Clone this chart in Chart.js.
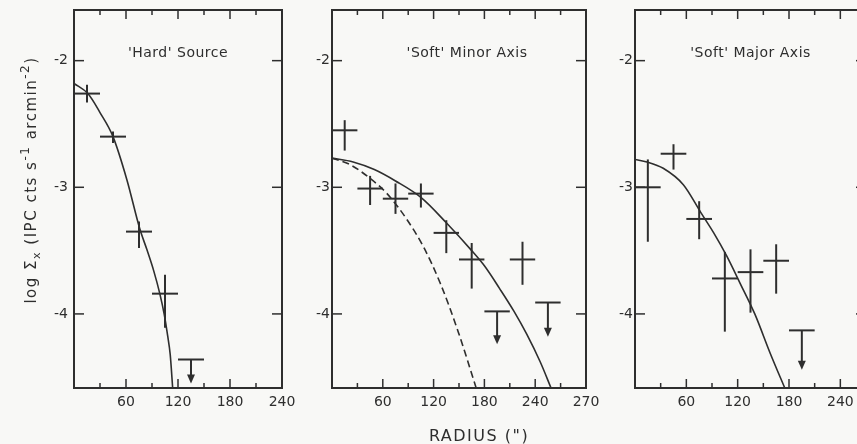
<!DOCTYPE html>
<html>
<head>
<meta charset="utf-8">
<script src="https://cdn.jsdelivr.net/npm/chart.js@4.4.0/dist/chart.umd.min.js"></script>
<style>
html, body { margin: 0; padding: 0; width: 857px; height: 444px; overflow: hidden; background: #f8f8f6; }
canvas { position: absolute; top: 0; }
</style>
</head>
<body>
<canvas id="hard" width="300" height="444" style="left:0px"></canvas>
<canvas id="minor" width="312" height="444" style="left:290px"></canvas>
<canvas id="major" width="270" height="444" style="left:600px"></canvas>
<script>
// ---- shared axes ----
const yTicks = [-2, -3, -4];
const yMin = -4.585, yMax = -1.6;
const binHalf = 15; // radial bins are 30" wide

// ---- 'Hard' Source ----
const hardX  = [15, 45, 75, 105];
const hardY  = [-2.26, -2.60, -3.35, -3.84];
const hardLo = [-2.33, -2.65, -3.48, -4.11];
const hardHi = [-2.19, -2.56, -3.27, -3.69];
const hardUlX = [135], hardUlY = [-4.36], hardUlTip = [-4.55];
const hardFitX = [0, 16, 30, 45, 61, 76, 84, 92, 99, 104, 108, 111, 114];
const hardFitY = [-2.18, -2.26, -2.41, -2.60, -2.94, -3.33, -3.49, -3.66, -3.84, -4.00, -4.17, -4.32, -4.60];
const hardTicks = [30, 60, 90, 120, 150, 180, 210];
const hardLabelAt = [60, 120, 180, 240];
const hardLabels = ["60", "120", "180", "240"];

// ---- 'Soft' Minor Axis ----
const minX  = [15, 45, 75, 105, 135, 165, 225];
const minY  = [-2.55, -3.01, -3.09, -3.05, -3.36, -3.57, -3.57];
const minLo = [-2.71, -3.14, -3.21, -3.16, -3.52, -3.80, -3.77];
const minHi = [-2.47, -2.91, -2.97, -2.97, -3.26, -3.44, -3.43];
const minUlX = [195, 255], minUlY = [-3.98, -3.91], minUlTip = [-4.24, -4.18];
const minFitX = [0, 25, 50, 75, 105, 135, 165, 180, 198, 215, 230, 246, 259];
const minFitY = [-2.77, -2.80, -2.86, -2.95, -3.08, -3.28, -3.50, -3.62, -3.80, -3.98, -4.16, -4.38, -4.59];
const minDashX = [0, 21, 45, 65, 88, 108, 128, 149, 171];
const minDashY = [-2.77, -2.82, -2.93, -3.05, -3.25, -3.47, -3.76, -4.14, -4.60];
const minTicks = [30, 60, 90, 120, 150, 180, 210, 240, 270];
const minLabelAt = [60, 120, 180, 240, 300];
const minLabels = ["60", "120", "180", "240", "270"];

// ---- 'Soft' Major Axis ----
const majX  = [15, 45, 75, 105, 135, 165];
const majY  = [-3.00, -2.735, -3.25, -3.72, -3.67, -3.58];
const majLo = [-3.43, -2.86, -3.41, -4.14, -3.99, -3.84];
const majHi = [-2.78, -2.66, -3.11, -3.51, -3.49, -3.45];
const majUlX = [195], majUlY = [-4.13], majUlTip = [-4.44];
const majFitX = [0, 14, 33, 56.5, 77, 92, 107, 123, 140, 158, 176];
const majFitY = [-2.78, -2.80, -2.85, -2.98, -3.20, -3.36, -3.54, -3.76, -4.00, -4.31, -4.60];
const majTicks = [30, 60, 90, 120, 150, 180, 210, 240];
const majLabelAt = [60, 120, 180, 240];
const majLabels = ["60", "120", "180", "240"];

const INK = "#2e2e2e";
const FONT = "'DejaVu Sans', sans-serif";

const line = (ctx, x1, y1, x2, y2) => {
    ctx.beginPath();
    ctx.moveTo(x1, y1);
    ctx.lineTo(x2, y2);
    ctx.stroke();
};

// frame, inward ticks, error crosses, upper limits, panel title
const deco = {
    id: "panelDeco",
    afterDatasetsDraw(chart, args, p) {
        const { ctx, chartArea: a } = chart;
        const sx = chart.scales.x, sy = chart.scales.y;
        ctx.save();
        ctx.strokeStyle = INK;
        ctx.fillStyle = INK;

        ctx.lineWidth = 2;
        ctx.strokeRect(a.left, a.top, a.right - a.left, a.bottom - a.top);

        ctx.lineWidth = 1.5;
        p.ticks.forEach(v => {
            const px = sx.getPixelForValue(v);
            const len = v % 60 === 0 ? 9 : 5;
            line(ctx, px, a.bottom, px, a.bottom - len);
            line(ctx, px, a.top, px, a.top + len);
        });
        yTicks.forEach(v => {
            const py = sy.getPixelForValue(v);
            line(ctx, a.left, py, a.left + 10, py);
            line(ctx, a.right, py, a.right - 10, py);
        });

        ctx.lineWidth = 2;
        p.x.forEach((xv, i) => {
            const px = sx.getPixelForValue(xv);
            const py = sy.getPixelForValue(p.y[i]);
            line(ctx, sx.getPixelForValue(xv - binHalf), py, sx.getPixelForValue(xv + binHalf), py);
            line(ctx, px, sy.getPixelForValue(p.lo[i]), px, sy.getPixelForValue(p.hi[i]));
        });

        p.ulX.forEach((xv, i) => {
            const px = sx.getPixelForValue(xv);
            const py = sy.getPixelForValue(p.ulY[i]);
            const tip = sy.getPixelForValue(p.ulTip[i]);
            line(ctx, sx.getPixelForValue(xv - binHalf), py, sx.getPixelForValue(xv + binHalf), py);
            line(ctx, px, py, px, tip - 6);
            ctx.beginPath();
            ctx.moveTo(px - 4, tip - 9);
            ctx.lineTo(px + 4, tip - 9);
            ctx.lineTo(px, tip);
            ctx.closePath();
            ctx.fill();
        });

        ctx.font = "14px " + FONT;
        ctx.textAlign = "center";
        ctx.textBaseline = "alphabetic";
        ctx.letterSpacing = "0.5px";
        ctx.fillText(p.title, (a.left + a.right) / 2 + p.titleDx, 57);

        if (p.extra) p.extra(ctx, a);
        ctx.restore();
    }
};

// y axis title with sub/superscripts, bottom to top
const drawYTitle = (ctx) => {
    const parts = [["log \u03A3", 0, 15], ["x", 4, 11], [" (IPC cts s", 0, 15], ["-1", -7, 12],
                   [" arcmin", 0, 15], ["-2", -7, 12], [")", 0, 15]];
    ctx.save();
    ctx.translate(36, 180);
    ctx.rotate(-Math.PI / 2);
    ctx.textAlign = "left";
    ctx.letterSpacing = "1.5px";
    let total = 0;
    parts.forEach(([t, , s]) => { ctx.font = s + "px " + FONT; total += ctx.measureText(t).width; });
    let cx = -total / 2;
    parts.forEach(([t, dy, s]) => {
        ctx.font = s + "px " + FONT;
        ctx.fillText(t, cx, dy);
        cx += ctx.measureText(t).width;
    });
    ctx.restore();
};

const drawXTitle = (ctx) => {
    ctx.font = "16px " + FONT;
    ctx.textAlign = "center";
    ctx.letterSpacing = "1.5px";
    ctx.fillText("RADIUS (\")", 189, 441);
};

const makePanel = (id, p) => {
    const datasets = p.fits.map(f => ({
        type: "line",
        data: f.x.map((x, i) => ({ x: x, y: f.y[i] })),
        borderColor: INK,
        borderWidth: 1.6,
        borderDash: f.dash || [],
        pointRadius: 0,
        cubicInterpolationMode: "monotone",
        fill: false
    }));

    new Chart(document.getElementById(id), {
        type: "scatter",
        data: { datasets: datasets },
        options: {
            responsive: false,
            animation: false,
            layout: { padding: { left: 0, right: p.padRight, top: 10, bottom: 0 } },
            plugins: {
                legend: { display: false },
                tooltip: { enabled: false },
                panelDeco: p
            },
            scales: {
                x: {
                    type: "linear",
                    min: 0,
                    max: p.xMax,
                    grid: { display: false, drawTicks: false },
                    border: { display: false },
                    afterBuildTicks: s => { s.ticks = p.labelAt.map(v => ({ value: v })); },
                    afterFit: s => { s.height = 56; s.paddingLeft = 0; s.paddingRight = 0; },
                    ticks: {
                        font: { family: FONT, size: 14 },
                        color: INK,
                        padding: 6,
                        maxRotation: 0,
                        autoSkip: false,
                        callback: (v, i) => p.labels[i]
                    }
                },
                y: {
                    type: "linear",
                    min: yMin,
                    max: yMax,
                    grid: { display: false, drawTicks: false },
                    border: { display: false },
                    afterBuildTicks: s => { s.ticks = yTicks.map(v => ({ value: v })); },
                    afterFit: s => { s.width = p.yWidth; s.paddingTop = 0; s.paddingBottom = 0; },
                    ticks: {
                        font: { family: FONT, size: 14 },
                        color: INK,
                        padding: p.yPad
                    }
                }
            }
        },
        plugins: [deco]
    });
};

makePanel("hard", {
    title: "'Hard' Source", titleDx: 0, xMax: 240, yWidth: 74, yPad: 6, padRight: 18,
    ticks: hardTicks, labelAt: hardLabelAt, labels: hardLabels,
    x: hardX, y: hardY, lo: hardLo, hi: hardHi,
    ulX: hardUlX, ulY: hardUlY, ulTip: hardUlTip,
    fits: [{ x: hardFitX, y: hardFitY }],
    extra: drawYTitle
});

makePanel("minor", {
    title: "'Soft' Minor Axis", titleDx: 8, xMax: 300, yWidth: 42, yPad: 2, padRight: 16,
    ticks: minTicks, labelAt: minLabelAt, labels: minLabels,
    x: minX, y: minY, lo: minLo, hi: minHi,
    ulX: minUlX, ulY: minUlY, ulTip: minUlTip,
    fits: [{ x: minFitX, y: minFitY }, { x: minDashX, y: minDashY, dash: [7, 4] }],
    extra: drawXTitle
});

makePanel("major", {
    title: "'Soft' Major Axis", titleDx: 0, xMax: 270, yWidth: 35, yPad: 2, padRight: 4,
    ticks: majTicks, labelAt: majLabelAt, labels: majLabels,
    x: majX, y: majY, lo: majLo, hi: majHi,
    ulX: majUlX, ulY: majUlY, ulTip: majUlTip,
    fits: [{ x: majFitX, y: majFitY }]
});
</script>
</body>
</html>
